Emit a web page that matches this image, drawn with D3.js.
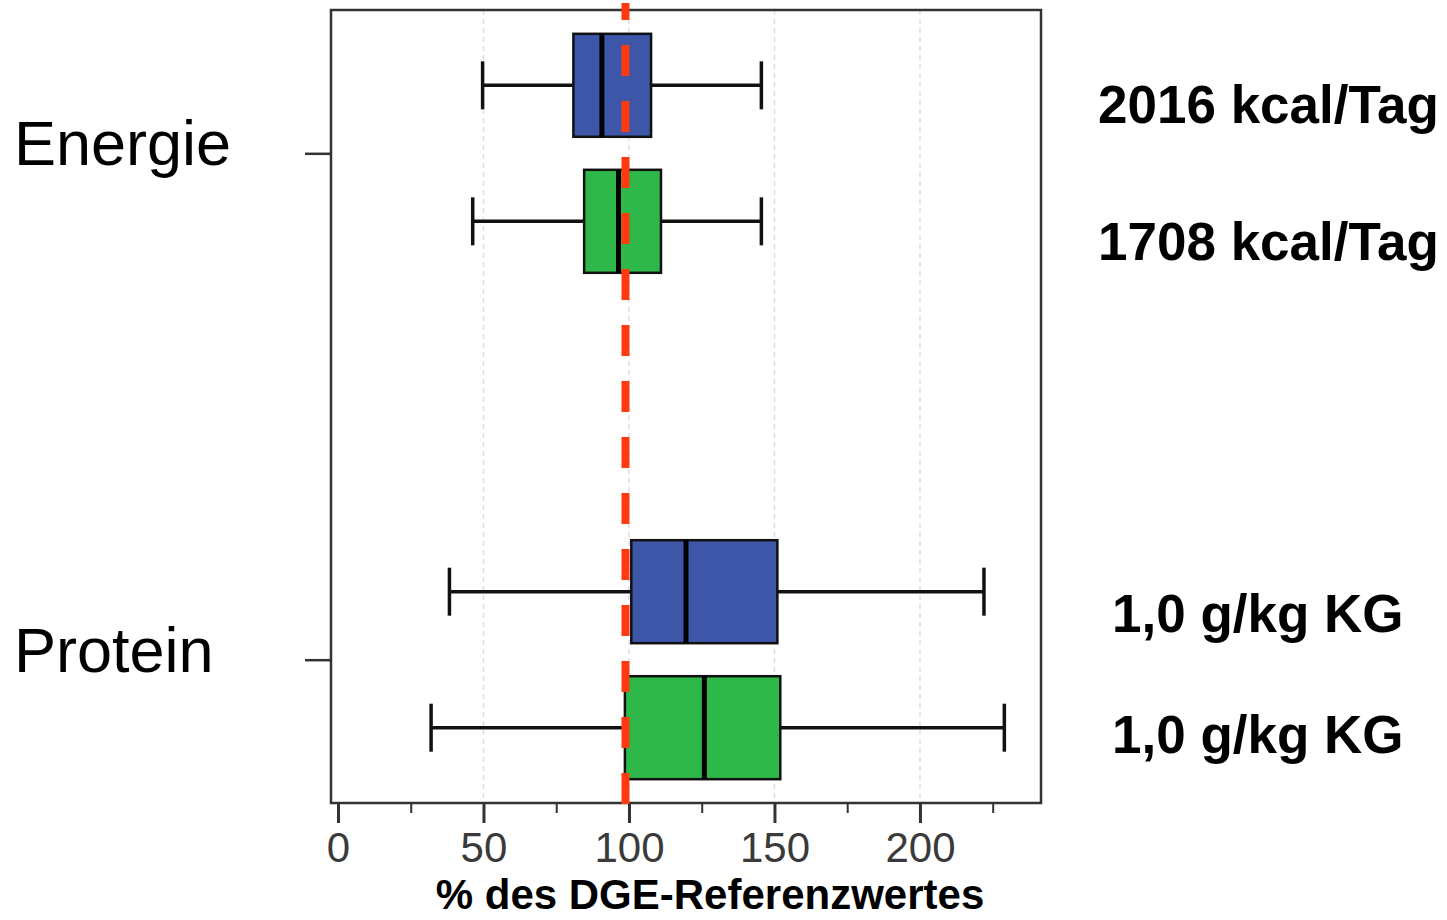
<!DOCTYPE html>
<html>
<head>
<meta charset="utf-8">
<script src="https://cdn.jsdelivr.net/npm/d3@7"></script>
<style>
  html, body { margin: 0; padding: 0; background: #fff; }
  svg { display: block; }
</style>
</head>
<body>
<svg id="chart" width="1447" height="920"></svg>
<script>
// ---- data ----
const categories = ["Energie", "Protein"];
const groups = ["Gruppe 1", "Gruppe 2"];
const boxCategory = ["Energie", "Energie", "Protein", "Protein"];
const boxGroup = ["Gruppe 1", "Gruppe 2", "Gruppe 1", "Gruppe 2"];
const whiskerLow = [49.7, 46.3, 38.3, 32.0];
const quartile1 = [80.9, 84.6, 100.8, 98.6];
const medians = [90.7, 96.4, 119.6, 125.9];
const quartile3 = [107.6, 111.0, 151.0, 152.0];
const whiskerHigh = [145.5, 145.5, 222.0, 229.0];
const sideLabels = ["2016 kcal/Tag", "1708 kcal/Tag", "1,0 g/kg KG", "1,0 g/kg KG"];
const majorTicks = [0, 50, 100, 150, 200];
const minorTicks = [25, 75, 125, 175, 225];
const gridValues = [50, 100, 150, 200];
const referenceValue = 98.8;
const xTitle = "% des DGE-Referenzwertes";

// ---- layout ----
const svg = d3.select("#chart");
const L = 331, R = 1041, T = 10, B = 803;
const colors = { "Gruppe 1": "#3d56a8", "Gruppe 2": "#2fb84a" };

const x = d3.scaleLinear().domain([-2.4, 241.6]).range([L, R]);
const y = d3.scalePoint().domain(categories).range([T, B]).padding(0.283);
const sub = d3.scalePoint().domain(groups).range([-68, 68]);
const boxH = 103, capH = 48;

const boxes = boxCategory.map((c, i) => ({
  cat: c, grp: boxGroup[i], lo: whiskerLow[i], q1: quartile1[i],
  med: medians[i], q3: quartile3[i], hi: whiskerHigh[i], label: sideLabels[i]
}));
const cy = d => y(d.cat) + sub(d.grp);

// grid lines
svg.append("g").selectAll("line").data(gridValues).join("line")
  .attr("x1", d => x(d)).attr("x2", d => x(d))
  .attr("y1", T).attr("y2", B)
  .attr("stroke", "#dedede").attr("stroke-width", 1.5)
  .attr("stroke-dasharray", "5,4");

// frame
svg.append("rect").attr("x", L).attr("y", T).attr("width", R - L).attr("height", B - T)
  .attr("fill", "none").attr("stroke", "#333").attr("stroke-width", 2.5);

// x axis (major + minor ticks)
const xAxis = d3.axisBottom(x).tickValues(majorTicks).tickSize(20).tickPadding(9)
  .tickFormat(d3.format("d"));
const gx = svg.append("g").attr("transform", `translate(0,${B})`).call(xAxis);
gx.select(".domain").remove();
gx.selectAll(".tick line").attr("stroke", "#333").attr("stroke-width", 3);
gx.selectAll(".tick text").attr("fill", "#3a3a3a")
  .attr("font-family", "'Liberation Sans', Arial, sans-serif").attr("font-size", 42);
const xMinor = d3.axisBottom(x).tickValues(minorTicks).tickSize(10).tickFormat("");
const gxm = svg.append("g").attr("transform", `translate(0,${B})`).call(xMinor);
gxm.select(".domain").remove();
gxm.selectAll(".tick line").attr("stroke", "#333").attr("stroke-width", 2);

// y axis ticks
const yAxis = d3.axisLeft(y).tickSize(26).tickFormat("");
const gy = svg.append("g").attr("transform", `translate(${L},0)`).call(yAxis);
gy.select(".domain").remove();
gy.selectAll(".tick line").attr("stroke", "#333").attr("stroke-width", 2.5);

// category labels
svg.append("g").selectAll("text").data(categories).join("text")
  .attr("x", 14).attr("y", d => y(d) + 12)
  .attr("font-family", "'Liberation Sans', Arial, sans-serif").attr("font-size", 63)
  .attr("fill", "#000").text(d => d);

// boxes
const g = svg.append("g");
const bx = g.selectAll("g.box").data(boxes).join("g").attr("class", "box");
bx.append("line").attr("x1", d => x(d.lo)).attr("x2", d => x(d.q1))
  .attr("y1", cy).attr("y2", cy).attr("stroke", "#111").attr("stroke-width", 3.5);
bx.append("line").attr("x1", d => x(d.q3)).attr("x2", d => x(d.hi))
  .attr("y1", cy).attr("y2", cy).attr("stroke", "#111").attr("stroke-width", 3.5);
bx.append("line").attr("x1", d => x(d.lo)).attr("x2", d => x(d.lo))
  .attr("y1", d => cy(d) - capH / 2).attr("y2", d => cy(d) + capH / 2)
  .attr("stroke", "#111").attr("stroke-width", 3.5);
bx.append("line").attr("x1", d => x(d.hi)).attr("x2", d => x(d.hi))
  .attr("y1", d => cy(d) - capH / 2).attr("y2", d => cy(d) + capH / 2)
  .attr("stroke", "#111").attr("stroke-width", 3.5);
bx.append("rect").attr("x", d => x(d.q1)).attr("width", d => x(d.q3) - x(d.q1))
  .attr("y", d => cy(d) - boxH / 2).attr("height", boxH)
  .attr("fill", d => colors[d.grp]).attr("stroke", "#111").attr("stroke-width", 2.5);
bx.append("line").attr("x1", d => x(d.med)).attr("x2", d => x(d.med))
  .attr("y1", d => cy(d) - boxH / 2).attr("y2", d => cy(d) + boxH / 2)
  .attr("stroke", "#000").attr("stroke-width", 5);

// reference line
svg.append("line").attr("x1", x(referenceValue)).attr("x2", x(referenceValue))
  .attr("y1", 3).attr("y2", 808)
  .attr("stroke", "#ff3a10").attr("stroke-width", 8)
  .attr("stroke-dasharray", "31,25").attr("stroke-dashoffset", 14);

// side labels
const labelX = { "Energie": 1098, "Protein": 1112 };
const labelDy = [38, 39, 40, 25];
svg.append("g").selectAll("text").data(boxes).join("text")
  .attr("x", d => labelX[d.cat]).attr("y", (d, i) => cy(d) + labelDy[i])
  .attr("font-family", "'Liberation Sans', Arial, sans-serif").attr("font-weight", "bold")
  .attr("font-size", 53).attr("fill", "#000").text(d => d.label);

// x title
svg.append("text").attr("x", 710).attr("y", 909).attr("text-anchor", "middle")
  .attr("font-family", "'Liberation Sans', Arial, sans-serif").attr("font-weight", "bold")
  .attr("font-size", 42).attr("fill", "#000").text(xTitle);
</script>
</body>
</html>
